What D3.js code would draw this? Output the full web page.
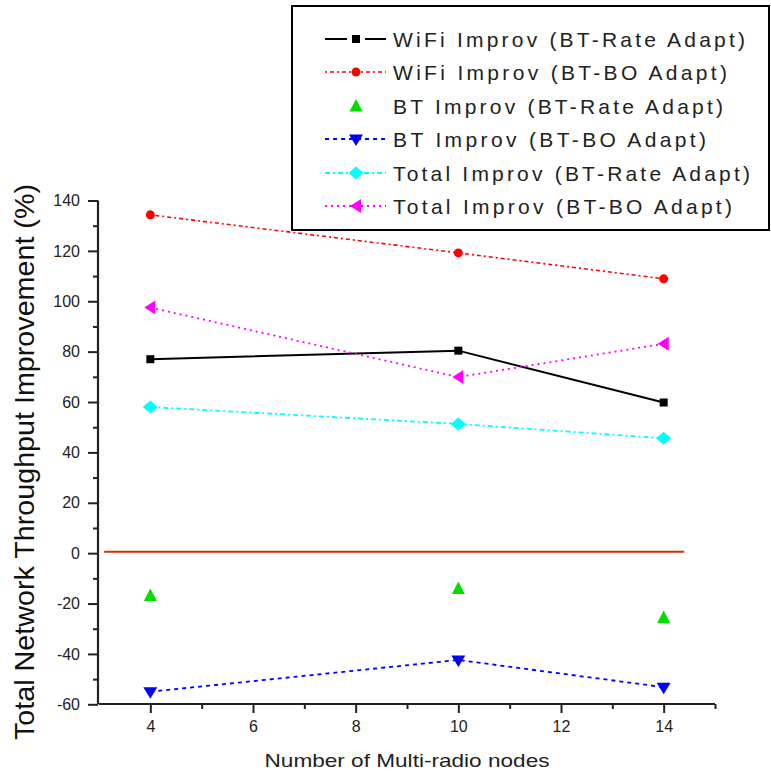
<!DOCTYPE html>
<html>
<head>
<meta charset="utf-8">
<script src="https://cdn.jsdelivr.net/npm/d3@7/dist/d3.min.js"></script>
<style>
  html, body { margin: 0; padding: 0; background: #fff; }
  svg { display: block; font-family: Arial, "Liberation Sans", sans-serif; }
</style>
</head>
<body>
<svg id="chart" width="771" height="771"></svg>
<script>
// ---- data ----
const nodes = [4, 10, 14];
const wifiRate = [77, 80.4, 59.8];
const wifiBO = [134.3, 119.2, 108.9];
const btRate = [-16.8, -14, -25.5];
const btBO = [-55, -42.4, -53.2];
const totalRate = [58, 51.3, 45.6];
const totalBO = [97.5, 69.9, 83.1];
const seriesNames = [
  "WiFi Improv (BT-Rate Adapt)",
  "WiFi Improv (BT-BO Adapt)",
  "BT Improv (BT-Rate Adapt)",
  "BT Improv (BT-BO Adapt)",
  "Total Improv (BT-Rate Adapt)",
  "Total Improv (BT-BO Adapt)"
];
const xMajorTicks = [4, 6, 8, 10, 12, 14];
const xMinorTicks = [5, 7, 9, 11, 13, 15];
const yMajorTicks = [-60, -40, -20, 0, 20, 40, 60, 80, 100, 120, 140];
const yMinorTicks = [-50, -30, -10, 10, 30, 50, 70, 90, 110, 130];
const xDomain = [3, 15];
const yDomain = [-60, 140];
const refValue = 0;
const refXRange = [3.1, 14.4];

// ---- styles ----
const styles = [
  { color: "#000000", dash: null, width: 2, symbol: "square", line: true },
  { color: "#ff0000", dash: "2,3,4,3", width: 1.6, symbol: "circle", line: true },
  { color: "#00dd00", dash: null, width: 1.5, symbol: "tri", line: false },
  { color: "#0000ff", dash: "4,4", width: 1.8, symbol: "triDown", line: true },
  { color: "#00ffff", dash: "5,3,2,3", width: 1.8, symbol: "diamond", line: true },
  { color: "#ff00ff", dash: "2,4", width: 1.8, symbol: "triLeft", line: true }
];
const allSeries = [wifiRate, wifiBO, btRate, btBO, totalRate, totalBO];

const svg = d3.select("#chart");
const x = d3.scaleLinear().domain(xDomain).range([99, 715]);
const y = d3.scaleLinear().domain(yDomain).range([704.3, 200.5]);

function symbolPath(type) {
  switch (type) {
    case "square": return "M-4,-4H4V4H-4Z";
    case "circle": return d3.symbol(d3.symbolCircle, 64)();
    case "tri": return "M0,-7L6.5,5.5H-6.5Z";
    case "triDown": return "M-7,-4.5H7L0,7Z";
    case "diamond": return "M0,-6.5L7.5,0L0,6.5L-7.5,0Z";
    case "triLeft": return "M-6,0L5,-7V7Z";
  }
}
const fmt = d => String(d);

// ---- axes ----
const axisColor = "#222";
const yAxis = svg.append("g").attr("transform", "translate(98,0)")
  .call(d3.axisLeft(y).tickValues(yMajorTicks).tickSize(10).tickPadding(8).tickFormat(fmt));
svg.append("g").attr("transform", "translate(98,0)")
  .call(d3.axisLeft(y).tickValues(yMinorTicks).tickSize(5).tickFormat(""))
  .select(".domain").remove();
const xAxis = svg.append("g").attr("transform", "translate(0,704)")
  .call(d3.axisBottom(x).tickValues(xMajorTicks).tickSize(9).tickPadding(8).tickFormat(fmt));
svg.append("g").attr("transform", "translate(0,704)")
  .call(d3.axisBottom(x).tickValues(xMinorTicks).tickSize(5).tickFormat(""))
  .select(".domain").remove();

svg.selectAll(".domain").attr("stroke", axisColor).attr("stroke-width", 2.2);
svg.selectAll(".tick line").attr("stroke", axisColor).attr("stroke-width", 2);
svg.selectAll(".tick text").attr("fill", "#222").style("font-size", "16px")
  .style("font-family", "Arial, 'Liberation Sans', sans-serif");
yAxis.select(".domain").attr("d", `M0,${y(yDomain[1])}V${y(yDomain[0])}`);
xAxis.select(".domain").attr("d", `M${x(xDomain[0])},0H${x(xDomain[1])}`);

// ---- reference line at zero ----
svg.append("line")
  .attr("x1", x(refXRange[0])).attr("x2", x(refXRange[1]))
  .attr("y1", y(refValue) - 1.5).attr("y2", y(refValue) - 1.5)
  .attr("stroke", "#cc3300").attr("stroke-width", 2);

// ---- series ----
allSeries.forEach((vals, i) => {
  const st = styles[i];
  const pts = nodes.map((n, j) => [x(n), y(vals[j])]);
  if (st.line) {
    svg.append("path")
      .attr("d", d3.line()(pts))
      .attr("fill", "none")
      .attr("stroke", st.color)
      .attr("stroke-width", st.width)
      .attr("stroke-dasharray", st.dash);
  }
  svg.append("g").selectAll("path").data(pts).join("path")
    .attr("transform", d => `translate(${d[0]},${d[1]})`)
    .attr("d", symbolPath(st.symbol))
    .attr("fill", st.color);
});

// ---- legend ----
const legend = svg.append("g");
legend.append("rect")
  .attr("x", 292).attr("y", 6).attr("width", 477).attr("height", 224)
  .attr("fill", "#fff").attr("stroke", "#000").attr("stroke-width", 2);
const rowY = [39, 72, 106, 139, 173, 206];
const textLens = [352, 334, 330, 313, 357, 339];
seriesNames.forEach((name, i) => {
  const st = styles[i];
  const g = legend.append("g").attr("transform", `translate(0,${rowY[i]})`);
  if (st.line) {
    g.append("line").attr("x1", 325).attr("x2", 386).attr("y1", 0).attr("y2", 0)
      .attr("stroke", st.color).attr("stroke-width", st.width)
      .attr("stroke-dasharray", st.dash);
    if (!st.dash) {
      g.append("rect").attr("x", 347).attr("y", -4).attr("width", 18).attr("height", 8).attr("fill", "#fff");
    }
  }
  g.append("path").attr("transform", "translate(356,0)")
    .attr("d", symbolPath(st.symbol)).attr("fill", st.color);
  g.append("text").attr("x", 393).attr("y", 8)
    .attr("textLength", textLens[i]).attr("lengthAdjust", "spacing")
    .style("font-size", "21px").attr("fill", "#222").text(name);
});

// ---- axis titles ----
svg.append("text")
  .attr("transform", "translate(34,462) rotate(-90)")
  .attr("text-anchor", "middle")
  .attr("textLength", 556).attr("lengthAdjust", "spacingAndGlyphs")
  .style("font-size", "28px").attr("fill", "#111")
  .text("Total Network Throughput Improvement (%)");
svg.append("text")
  .attr("x", 407).attr("y", 767)
  .attr("text-anchor", "middle")
  .attr("textLength", 285).attr("lengthAdjust", "spacingAndGlyphs")
  .style("font-size", "19px").attr("fill", "#222")
  .text("Number of Multi-radio nodes");
</script>
</body>
</html>
